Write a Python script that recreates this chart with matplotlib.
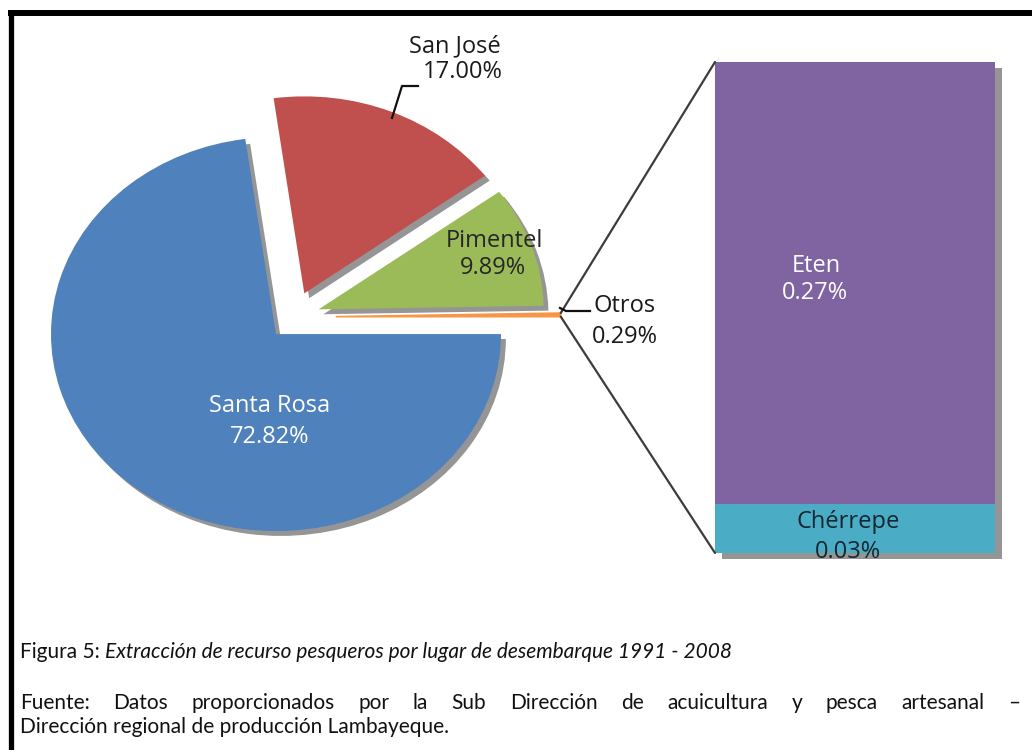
import matplotlib
matplotlib.use("Agg")
import numpy as np
import matplotlib.pyplot as plt
import matplotlib.patheffects as pe
from matplotlib.patches import ConnectionPatch

W, H = 1032, 750

# main pie
places = ["Santa Rosa", "San José", "Pimentel", "Otros"]
shares = [72.82, 17.00, 9.89, 0.29]
pie_colors = ["#4F81BD", "#C0504D", "#9BBB59", "#F79646"]
explode = [0.115, 0.13, 0.12, 0.19]

# breakdown of "Otros" (bar of pie)
otros_places = ["Chérrepe", "Eten"]
otros_shares = [0.03, 0.27]
bar_colors = ["#4BACC6", "#8064A2"]

caption_label = "Figura 5: "
caption_title = "Extracción de recurso pesqueros por lugar de desembarque 1991 - 2008"
source_line1 = "Fuente: Datos proporcionados por la Sub Dirección de acuicultura y pesca artesanal –"
source_line2 = "Dirección regional de producción Lambayeque."

LABEL_FONT = ["Open Sans", "DejaVu Sans"]
CAPTION_FONT = ["Lato", "DejaVu Sans"]


def px_rect(x0, y0, x1, y1):
    # pixel box with top-left origin -> figure fraction rect
    return [x0 / W, 1 - y1 / H, (x1 - x0) / W, (y1 - y0) / H]


def shadow(off):
    return [pe.SimplePatchShadow(offset=off, shadow_rgbFace="#8a8a8a", alpha=0.9),
            pe.Normal()]


fig = plt.figure(figsize=(W / 100, H / 100), dpi=100)
fig.patch.set_facecolor("white")

# pie, slightly stretched horizontally like the scanned original
cx, cy, rx, ry = 293, 317, 225, 197
ax_pie = fig.add_axes(px_rect(cx - 1.3 * rx, cy - 1.3 * ry, cx + 1.3 * rx, cy + 1.3 * ry))
wedges, _ = ax_pie.pie(shares, colors=pie_colors, explode=explode, startangle=0,
                       counterclock=False, wedgeprops=dict(linewidth=0))
for w in wedges[:3]:
    w.set_path_effects(shadow((3.5, -3.5)))
# the thin "Otros" sliver: give it a touch of outline so it reads as a line
wedges[3].set_edgecolor(pie_colors[3])
wedges[3].set_linewidth(1.2)
ax_pie.set_xlim(-1.3, 1.3)
ax_pie.set_ylim(-1.3, 1.3)
ax_pie.set_aspect("auto")
ax_pie.axis("off")

# stacked bar for the small landing sites
ax_bar = fig.add_axes(px_rect(715, 62, 995, 553))
bottom = 0
for i, (val, col) in enumerate(zip(otros_shares, bar_colors)):
    b = ax_bar.bar(0, val, bottom=bottom, width=1, color=col, linewidth=0,
                   zorder=3 - i, clip_on=False)
    b[0].set_path_effects(shadow((5, -4)))
    bottom += val
ax_bar.set_xlim(-0.5, 0.5)
ax_bar.set_ylim(0, sum(otros_shares))
ax_bar.axis("off")

# connector lines from the "Otros" slice to the bar
ow = wedges[3]
for ang, corner in [(ow.theta2, (0, 1)), (ow.theta1, (0, 0))]:
    p = (ow.center[0] + ow.r * np.cos(np.radians(ang)),
         ow.center[1] + ow.r * np.sin(np.radians(ang)))
    con = ConnectionPatch(xyA=p, coordsA=ax_pie.transData, xyB=corner,
                          coordsB=ax_bar.transAxes, color="#3c3c3c", lw=1.6)
    fig.add_artist(con)

# overlay in pixel coordinates for labels, leaders, frame and caption
ax_t = fig.add_axes([0, 0, 1, 1])
ax_t.set_xlim(0, W)
ax_t.set_ylim(H, 0)
ax_t.axis("off")
ax_t.set_zorder(5)

lab_kw = dict(ha="center", va="center", fontsize=17, family=LABEL_FONT)
label_pos = {
    "Santa Rosa": ((270, 406), (270, 437), "white"),
    "San José": ((455, 46), (463, 72), "#1a1a1a"),
    "Pimentel": ((494, 241), (493, 268), "#262626"),
    "Otros": ((625, 306), (625, 337), "#1a1a1a"),
}
for name, val in zip(places, shares):
    p1, p2, c = label_pos[name]
    ax_t.text(*p1, name, color=c, **lab_kw)
    ax_t.text(*p2, f"{val:.2f}%", color=c, **lab_kw)

bar_label_pos = {
    "Eten": ((816, 266), (815, 293), "white"),
    "Chérrepe": ((848, 522), (848, 552), "#15262f"),
}
for name, val in zip(otros_places, otros_shares):
    p1, p2, c = bar_label_pos[name]
    ax_t.text(*p1, name, color=c, **lab_kw)
    ax_t.text(*p2, f"{val:.2f}%", color=c, **lab_kw)

# leader lines
ax_t.plot([392, 402, 418], [118, 86, 86], color="#111111", lw=1.6)
ax_t.plot([560, 566, 590], [308, 311, 311], color="#111111", lw=1.6)

# page frame (top and left edges only)
ax_t.plot([8, W], [13, 13], color="black", lw=4.3, solid_capstyle="butt")
ax_t.plot([10.5, 10.5], [10, H], color="black", lw=3.8, solid_capstyle="butt")

# caption
renderer = fig.canvas.get_renderer()
cap_kw = dict(va="center", ha="left", fontsize=15, family=CAPTION_FONT, color="#111111")


def width_of(t):
    return t.get_window_extent(renderer).width


t1 = ax_t.text(20, 652, caption_label, **cap_kw)
ax_t.text(20 + width_of(t1), 652, caption_title, style="italic", **cap_kw)

# justified first source line
words = source_line1.split()
tw = [ax_t.text(0, 703, wd, **cap_kw) for wd in words]
widths = [width_of(t) for t in tw]
gap = (1020 - 20 - sum(widths)) / (len(words) - 1)
x = 20
for t, wdt in zip(tw, widths):
    t.set_x(x)
    x += wdt + gap

ax_t.text(20, 727, source_line2, **cap_kw)

fig.savefig("out.png", dpi=100, facecolor="white")
